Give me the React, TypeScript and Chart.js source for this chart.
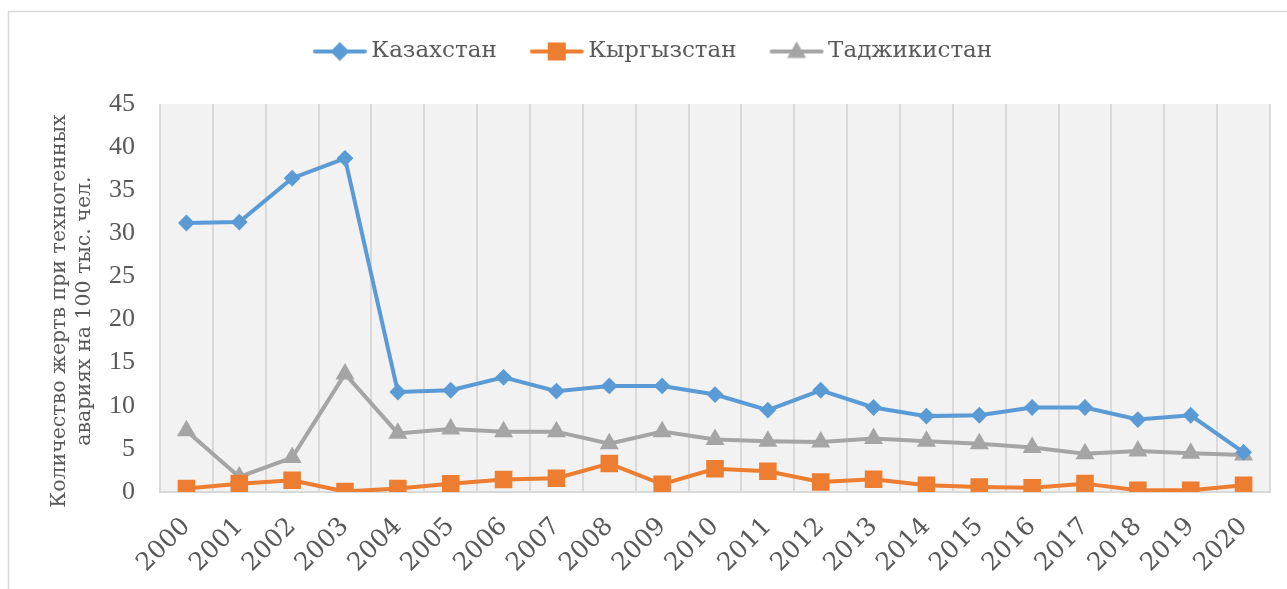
import React, { useEffect, useRef } from 'react';
import { Chart, registerables } from 'chart.js';

Chart.register(...registerables);

const years = ['2000', '2001', '2002', '2003', '2004', '2005', '2006', '2007', '2008', '2009', '2010', '2011', '2012', '2013', '2014', '2015', '2016', '2017', '2018', '2019', '2020'];
const kazakhstan = [31.2, 31.3, 36.4, 38.7, 11.6, 11.8, 13.3, 11.7, 12.3, 12.3, 11.3, 9.5, 11.8, 9.8, 8.8, 8.9, 9.8, 9.8, 8.4, 8.9, 4.6];
const kyrgyzstan = [0.4, 0.97, 1.36, 0.05, 0.4, 0.95, 1.44, 1.6, 3.3, 0.9, 2.7, 2.4, 1.16, 1.47, 0.78, 0.58, 0.5, 0.97, 0.2, 0.2, 0.78];
const tajikistan = [7.1, 1.74, 4.0, 13.7, 6.8, 7.3, 7.0, 7.0, 5.6, 7.0, 6.1, 5.9, 5.8, 6.2, 5.9, 5.6, 5.15, 4.45, 4.75, 4.5, 4.3];
const seriesNames = ['Казахстан', 'Кыргызстан', 'Таджикистан'];
const axisTitle = ['Количество жертв при техногенных    ', 'авариях на 100 тыс. чел.    '];

const COLORS = ['#5b9bd5', '#ed7d31', '#a5a5a5'];
const TEXT = '#595959';
const GRID = '#d9d9d9';

function makeIcon(color: string, shape: string): HTMLCanvasElement {
  const c = document.createElement('canvas');
  c.width = 56;
  c.height = 22;
  const ctx = c.getContext('2d')!;
  const cx = 28, cy = 11;
  ctx.strokeStyle = color;
  ctx.lineWidth = 4;
  ctx.lineCap = 'round';
  ctx.beginPath();
  ctx.moveTo(3, cy);
  ctx.lineTo(53, cy);
  ctx.stroke();
  ctx.fillStyle = color;
  ctx.beginPath();
  if (shape === 'diamond') {
    ctx.moveTo(cx - 9.5, cy);
    ctx.lineTo(cx, cy - 9.5);
    ctx.lineTo(cx + 9.5, cy);
    ctx.lineTo(cx, cy + 9.5);
  } else if (shape === 'square') {
    ctx.rect(cx - 9, cy - 9, 18, 18);
  } else {
    ctx.moveTo(cx, cy - 10);
    ctx.lineTo(cx + 9.5, cy + 6.5);
    ctx.lineTo(cx - 9.5, cy + 6.5);
  }
  ctx.closePath();
  ctx.fill();
  return c;
}

export default function App() {
  const ref = useRef<HTMLCanvasElement | null>(null);

  useEffect(() => {
    if (!ref.current) return;
    const icons = [makeIcon(COLORS[0], 'diamond'), makeIcon(COLORS[1], 'square'), makeIcon(COLORS[2], 'triangle')];

    const legendSpacer = {
      id: 'legendSpacer',
      beforeInit(chart: any) {
        const orig = chart.legend.fit;
        chart.legend.fit = function () {
          orig.call(this);
          this.height += 31;
        };
      },
    };

    const background = {
      id: 'background',
      beforeDraw(chart: any) {
        const { ctx, chartArea } = chart;
        ctx.save();
        ctx.fillStyle = '#ffffff';
        ctx.fillRect(0, 0, chart.width, chart.height);
        ctx.strokeStyle = GRID;
        ctx.lineWidth = 1.5;
        ctx.strokeRect(8.5, 11.5, 1400, 700);
        ctx.fillStyle = '#f2f2f2';
        ctx.fillRect(chartArea.left, chartArea.top, chartArea.right - chartArea.left, chartArea.bottom - chartArea.top);
        ctx.restore();
      },
    };

    const mk = (label: string, data: number[], color: string, style: string, radius: number) => ({
      label,
      data,
      borderColor: color,
      backgroundColor: color,
      borderWidth: 4,
      pointStyle: style,
      pointRadius: radius,
      pointHoverRadius: radius,
      pointBorderWidth: 2,
      pointBorderColor: color,
      pointBackgroundColor: color,
      tension: 0,
    });

    const chart = new Chart(ref.current, {
      type: 'line',
      data: {
        labels: years,
        datasets: [
          mk(seriesNames[0], kazakhstan, COLORS[0], 'rectRot', 7),
          mk(seriesNames[1], kyrgyzstan, COLORS[1], 'rect', 11),
          mk(seriesNames[2], tajikistan, COLORS[2], 'triangle', 9),
        ],
      },
      options: {
        responsive: false,
        animation: false,
        devicePixelRatio: 1,
        layout: { padding: { left: 42, right: 17, top: 0, bottom: 0 } },
        plugins: {
          tooltip: { enabled: false },
          legend: {
            position: 'top',
            labels: {
              usePointStyle: true,
              pointStyleWidth: 40,
              padding: 40,
              color: TEXT,
              font: { family: "'DejaVu Serif', serif", size: 23 },
              generateLabels: (c: any) => {
                const items = (Chart.defaults.plugins.legend.labels as any).generateLabels(c);
                return items.map((it: any, i: number) => ({ ...it, pointStyle: icons[i] }));
              },
            },
          },
        },
        scales: {
          x: {
            offset: true,
            grid: { display: true, offset: true, color: GRID, lineWidth: 2, drawTicks: false },
            border: { display: true, color: GRID, width: 2 },
            ticks: {
              autoSkip: false,
              minRotation: 45,
              maxRotation: 45,
              padding: 20,
              color: TEXT,
              font: { family: "'DejaVu Serif', serif", size: 25 },
            },
            afterFit: (s: any) => { s.height = 97; },
          },
          y: {
            min: 0,
            max: 45,
            grid: { display: false, drawTicks: false },
            border: { display: false },
            ticks: {
              stepSize: 5,
              padding: 25,
              color: TEXT,
              font: { family: "'Liberation Serif', serif", size: 26 },
            },
            title: {
              display: true,
              text: axisTitle,
              color: TEXT,
              font: { family: "'DejaVu Serif', serif", size: 20.5, lineHeight: 1.22 },
              padding: { top: 5, bottom: 0 },
            },
            afterFit: (s: any) => { s.width = 118; },
          },
        },
      },
      plugins: [legendSpacer, background],
    });
    return () => chart.destroy();
  }, []);

  return (
    <div style={{ position: 'fixed', left: 0, top: 0, width: 1287, height: 589, background: '#fff' }}>
      <canvas ref={ref} width={1287} height={589} style={{ width: 1287, height: 589, display: 'block' }} />
    </div>
  );
}
